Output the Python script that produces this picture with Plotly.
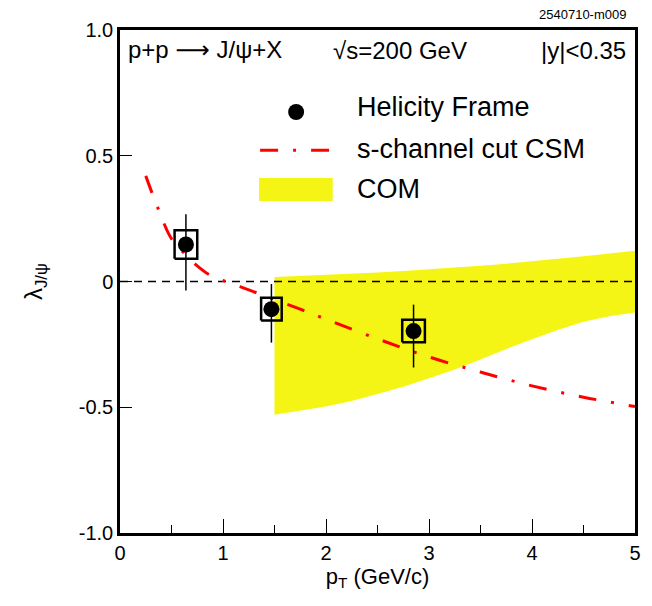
import plotly.graph_objects as go

# ---- data ----
pt = [0.64, 1.47, 2.85]
lam = [0.147, -0.11, -0.197]
err_up = [0.12, 0.10, 0.105]
err_dn = [0.183, 0.133, 0.145]
syst = [0.057, 0.045, 0.045]
box_dx = [0.11, 0.10, 0.11]

csm_x = [0.25, 0.37, 0.5, 0.63, 0.75, 0.87, 1.0, 1.25, 1.5, 1.75, 2.0, 2.5, 3.0, 3.5, 4.0, 4.5, 5.0]
csm_y = [0.42, 0.29, 0.17, 0.11, 0.062, 0.026, 0.004, -0.033, -0.072, -0.11, -0.15, -0.228, -0.30, -0.36, -0.415, -0.46, -0.497]

com_x = [1.5, 1.75, 2.0, 2.25, 2.5, 2.75, 3.0, 3.25, 3.5, 3.75, 4.0, 4.25, 4.5, 4.75, 5.0]
com_hi = [0.018, 0.022, 0.027, 0.031, 0.036, 0.042, 0.048, 0.055, 0.063, 0.071, 0.08, 0.09, 0.1, 0.111, 0.122]
com_lo = [-0.53, -0.515, -0.497, -0.475, -0.447, -0.418, -0.385, -0.35, -0.31, -0.268, -0.23, -0.193, -0.16, -0.138, -0.123]

x_ticks = [0, 1, 2, 3, 4, 5]
y_ticks = [-1.0, -0.5, 0, 0.5, 1.0]
y_ticklabels = ["-1.0", "-0.5", "0", "0.5", "1.0"]

YELLOW = "#f5f515"
RED = "#ff0000"
FONT = "Liberation Sans, Arial, sans-serif"
DASHDOT = "18px,15px,3px,15px"

fig = go.Figure()

# COM band
fig.add_trace(go.Scatter(
    x=com_x + com_x[::-1], y=com_hi + com_lo[::-1],
    fill="toself", fillcolor=YELLOW, line=dict(width=0), mode="lines",
    hoverinfo="skip", showlegend=False))

# zero line
fig.add_trace(go.Scatter(x=[0, 5], y=[0, 0], mode="lines",
                         line=dict(color="black", width=1.5, dash="8px,6px"),
                         hoverinfo="skip", showlegend=False))

# CSM curve
fig.add_trace(go.Scatter(x=csm_x, y=csm_y, mode="lines",
                         line=dict(color=RED, width=3, dash=DASHDOT, shape="spline"),
                         showlegend=False))

# systematic boxes
bx, by = [], []
for x, y, s, dx in zip(pt, lam, syst, box_dx):
    bx += [x - dx, x + dx, x + dx, x - dx, x - dx, None]
    by += [y - s, y - s, y + s, y + s, y - s, None]
fig.add_trace(go.Scatter(x=bx, y=by, mode="lines",
                         line=dict(color="black", width=2.5),
                         hoverinfo="skip", showlegend=False))

# data points with stat errors
fig.add_trace(go.Scatter(
    x=pt, y=lam, mode="markers",
    marker=dict(color="black", size=16),
    error_y=dict(type="data", symmetric=False, array=err_up, arrayminus=err_dn,
                 color="black", thickness=1.5, width=0),
    showlegend=False))

# ---- legend (manual) ----
shapes = [
    dict(type="circle", xref="paper", yref="paper",
         x0=0.3265, x1=0.3575, y0=0.821, y1=0.853,
         fillcolor="black", line=dict(color="black", width=0)),
    dict(type="line", xref="paper", yref="paper",
         x0=0.272, x1=0.412, y0=0.761, y1=0.761,
         line=dict(color=RED, width=3, dash=DASHDOT)),
    dict(type="rect", xref="paper", yref="paper",
         x0=0.270, x1=0.413, y0=0.660, y1=0.706,
         fillcolor=YELLOW, line=dict(width=0)),
]

ann = []
def txt(x, y, s, size=24, xanchor="left"):
    ann.append(dict(x=x, y=y, xref="paper", yref="paper", text=s, showarrow=False,
                    xanchor=xanchor, yanchor="middle",
                    font=dict(family=FONT, size=size, color="black")))

txt(0.456, 0.847, "Helicity Frame", size=27)
txt(0.456, 0.763, "s-channel cut CSM", size=27)
txt(0.456, 0.684, "COM", size=27)
txt(0.012, 0.960, "p+p <span style=\"font-family:DejaVu Sans\">\u27f6</span> J/\u03c8+X")
txt(0.410, 0.960, "\u221as=200 GeV")
txt(0.986, 0.960, "|y|<0.35", xanchor="right")
txt(0.986, 1.030, "2540710-m009", size=13, xanchor="right")

# the page puts the plot 8 px from the window corner
fig.update_layout(
    width=644, height=598,
    margin=dict(l=112, r=17, t=22, b=73),
    paper_bgcolor="white", plot_bgcolor="white",
    font=dict(family=FONT, size=20, color="black"),
    shapes=shapes, annotations=ann,
    showlegend=False,
)
fig.update_xaxes(
    range=[0, 5], tickvals=x_ticks, ticks="inside", ticklen=14, tickwidth=1.2,
    tickcolor="black",
    minor=dict(dtick=0.5, ticks="inside", ticklen=8, tickwidth=1.2, tickcolor="black"),
    showgrid=False, zeroline=False, showline=True, linecolor="black", linewidth=2.5,
    mirror=True, tickfont=dict(size=20),
    title=dict(text="p<sub>T</sub> (GeV/c)", font=dict(size=22), standoff=4),
)
fig.update_yaxes(
    range=[-1.0, 1.0], tickvals=y_ticks, ticktext=y_ticklabels, ticks="inside",
    ticklen=12, tickwidth=1.2, tickcolor="black",
    showgrid=False, zeroline=False, showline=True, linecolor="black", linewidth=2.5,
    mirror=True, tickfont=dict(size=20),
    title=dict(text="\u03bb<sub>J/\u03c8</sub>", font=dict(size=24), standoff=30),
)

fig.write_html("out.html")
